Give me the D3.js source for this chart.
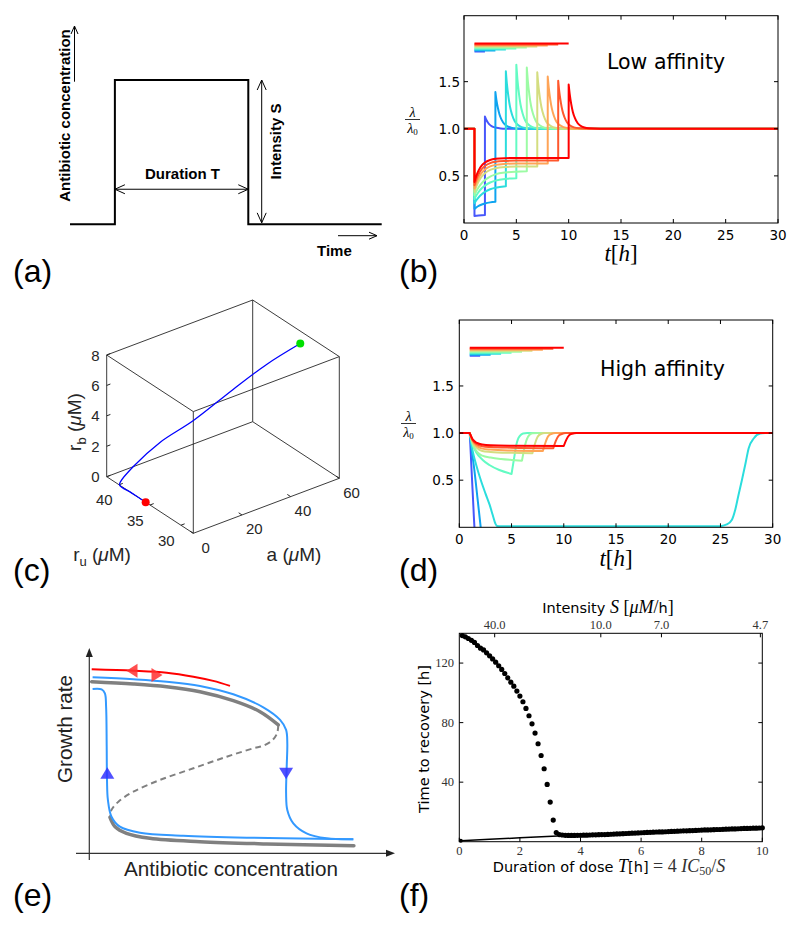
<!DOCTYPE html>
<html><head><meta charset="utf-8">
<script src="https://cdn.jsdelivr.net/npm/d3@7/dist/d3.min.js"></script>
<style>html,body{margin:0;padding:0;background:#fff}svg{display:block}</style>
</head><body>
<script>
// ================= DATA =================
// (a) dose pulse schematic
const pulseTimes  = [0, 1.44, 1.44, 5.72, 5.72, 10];
const pulseLevels = [0, 0, 1, 1, 0, 0];

// (b),(d) growth rate for dose durations T = 1..9 h (dose starts at t = 1 h)
const durations = [1,2,3,4,5,6,7,8,9];
const curveColors = ["#4757fb","#0ea4f0","#2bdddd","#63fbc3","#9cfba4","#d4dd80","#ffa457","#ff572c","#ff0000"];
const lambdaTicks = [0.5, 1.0, 1.5];
const timeTicks = [0,5,10,15,20,25,30];
const doseBarLevels = [1.820,1.831,1.841,1.852,1.862,1.873,1.883,1.894,1.905];

// (b) low affinity
const lowRiseTimes = [1,1.2,1.4,1.7,2,2.5,3,4,5,6,7,8,9,10];
const lowRise = [
  [.075,.077,.079,.082,.085],
  [.15,.167,.181,.196,.207,.219,.226],
  [.21,.244,.273,.306,.33,.358,.374,.391],
  [.255,.296,.329,.368,.397,.43,.45,.469,.476],
  [.295,.341,.379,.423,.456,.493,.516,.537,.545,.548],
  [.33,.393,.442,.494,.529,.563,.581,.595,.599,.60,.60],
  [.365,.432,.481,.534,.568,.601,.617,.628,.632,.632,.632,.632],
  [.40,.469,.52,.573,.606,.636,.65,.659,.662,.662,.662,.662,.662],
  [.435,.507,.559,.611,.642,.669,.681,.688,.69,.69,.69,.69,.69,.69]
];
const lowDecayDt = [0,0.1,0.25,0.4,0.6,0.85,1.1,1.5,2,3];
const lowDecay = [
  [1.13,1.101,1.072,1.049,1.031,1.017,1.01,1.004,1.001,1],
  [1.39,1.304,1.215,1.148,1.094,1.051,1.029,1.012,1.004,1],
  [1.61,1.476,1.336,1.232,1.146,1.079,1.046,1.018,1.006,1],
  [1.68,1.53,1.374,1.258,1.163,1.088,1.051,1.02,1.007,1],
  [1.65,1.507,1.358,1.247,1.156,1.085,1.049,1.02,1.007,1],
  [1.60,1.468,1.33,1.228,1.144,1.078,1.045,1.018,1.006,1],
  [1.555,1.433,1.305,1.211,1.133,1.072,1.042,1.017,1.006,1],
  [1.51,1.398,1.281,1.194,1.122,1.066,1.038,1.015,1.005,1],
  [1.47,1.367,1.259,1.179,1.113,1.061,1.035,1.014,1.005,1]
];

// (d) high affinity
const highDecline = [
  [[1,1],[1.1,.78],[1.2,.55],[1.3,.33],[1.45,0],[1.5,-.08]],
  [[1,1],[1.2,.81],[1.44,.61],[1.76,.29],[2.05,0],[2.1,-.05]],
  [[1,1],[1.3,.8],[1.6,.67],[2,.52],[2.5,.36],[2.9,.24],[3.2,.13],[3.45,.04],[3.6,.015],[4,.012],[25,.012]],
  [[1,1],[1.2,.9],[1.6,.8],[2.24,.714],[2.88,.661],[3.83,.608],[5,.566]],
  [[1,1],[1.3,.88],[1.7,.8],[2.2,.76],[3,.74],[4,.725],[5,.715],[6,.707]],
  [[1,1],[1.3,.9],[1.7,.84],[2.2,.81],[3,.80],[5,.79],[7,.786]],
  [[1,1],[1.3,.91],[1.7,.86],[2.2,.835],[3,.825],[5,.815],[8,.81]],
  [[1,1],[1.3,.92],[1.7,.88],[2.2,.86],[3,.852],[5,.845],[9,.84]],
  [[1,1],[1.3,.93],[1.7,.895],[2.2,.878],[3,.87],[5,.866],[10,.863]]
];
const highRecover = [
  null,
  null,
  [[25,.012],[25.6,.03],[26.1,.08],[26.4,.18],[26.7,.33],[27.05,.5],[27.4,.68],[27.7,.84],[28.2,.945],[28.8,.995],[29.3,1],[30,1]],
  [[5,.566],[5.27,.75],[5.45,.87],[5.6,.93],[5.8,.97],[6.1,.995],[6.5,1],[30,1]],
  [[6,.707],[6.25,.85],[6.45,.93],[6.7,.98],[7,.997],[7.5,1],[30,1]],
  [[7,.786],[7.25,.89],[7.5,.96],[7.8,.99],[8.2,1],[30,1]],
  [[8,.81],[8.25,.9],[8.5,.965],[8.8,.99],[9.2,1],[30,1]],
  [[9,.84],[9.25,.92],[9.5,.97],[9.8,.99],[10.2,1],[30,1]],
  [[10,.863],[10.25,.93],[10.5,.975],[10.8,.993],[11.2,1],[30,1]]
];

// (c) trajectory in (a, r_u, r_b) space
const trajA  = [0, 0, 0, 0.3, 4.5, 13, 24.2, 36.7, 46.8, 55.4];
const trajRu = [35.7, 38, 39.9, 39.9, 39.5, 38.5, 37.5, 36, 34.5, 32.5];
const trajRb = [0, 0, 0, 0.2, 1.05, 2.4, 3.43, 5.12, 6.57, 7.94];
const rbTicks = [0,2,4,6,8];
const ruTicks = [30,35,40];
const aTicks  = [0,20,40,60];

// (e) bistability schematic (arbitrary units 0..100)
const grayUpper  = [[0.8,85.8],[14.7,84.7],[25.8,83.3],[36.9,80.8],[48,76.3],[56.9,70.8],[63,64.2]];
const grayDashed = [[63,64.2],[62.6,60],[61,56.5],[58,53.8],[54.7,52.5],[45.8,48.3],[34.7,42.5],[23.6,36.7],[14.7,30.8],[9.7,25.8],[7.4,21.7],[6.9,18]];
const grayLower  = [[6.9,18],[8.6,13.3],[12.4,10],[20.2,7.5],[36.9,5.8],[59.1,4.7],[88.2,3.8]];
const blueUpper  = [[1.1,88],[14.7,87],[25.8,85.8],[36.9,83.7],[48,79.5],[58,73],[63.6,66.7],[65.6,61.7],[66,55],[65.8,43.3],[65.6,30],[66,21.7],[68,15],[72.4,10],[79.1,7.5],[88,7]];
const blueLower  = [[1.1,82.2],[4.1,82],[5.2,80],[5.6,73.3],[5.8,53.3],[5.9,36.7],[6.2,26.7],[7.4,18.3],[10.2,13.3],[16.9,10.3],[31.3,8.8],[53.6,7.8],[81.3,7.2],[88,7]];
const redLine    = [[0.8,92],[14.7,91.3],[25.8,90.3],[34.7,88.3],[41.3,86.2],[46.9,83.7]];
const blueArrows = [{x:6.0,y:40,dir:"up"},{x:65.6,y:40,dir:"down"}];
const redArrows  = [{x:12.4,y:91.3,dir:"left"},{x:24.4,y:89.2,dir:"right"}];

// (f) time to recovery vs dose duration
const recUpperT = d3.range(1,33).map(i=>i/10);   // 0.1 .. 3.2
const recUpper  = [138.5,137.6,136.5,135.3,133.9,131.8,130.0,128.8,126.9,124.9,122.8,120.6,118.2,115.7,113.0,110.1,107.2,104.5,101.2,97.8,94.0,89.5,84.6,79.2,73.0,65.8,57.9,49.0,38.5,26.6,14.5,6.1];
const recLowerT = d3.range(33,101).map(i=>i/10); // 3.3 .. 10.0
const recLower  = [4.8,4.5,4.3,4.2,4.2,4.2,4.3,4.3,4.4,4.4,4.5,4.6,4.6,4.7,4.8,4.8,4.9,5.0,5.1,5.2,5.3,5.4,5.5,5.6,5.7,5.8,5.9,6.0,6.1,6.2,6.3,6.4,6.5,6.6,6.6,6.7,6.8,6.9,7.0,7.1,7.2,7.3,7.3,7.4,7.5,7.6,7.7,7.8,7.9,7.9,8.0,8.1,8.2,8.2,8.3,8.4,8.5,8.6,8.6,8.7,8.8,8.9,8.9,9.0,9.1,9.1,9.2,9.3];
const recLine   = [[0.05,0.6],[1,1.6],[2,2.6],[3.25,3.9]];
const recXTicks = [0,2,4,6,8,10];
const recYTicks = [40,80,120];
const intensityTicks = [40.0, 10.0, 7.0, 4.7];
const intensityConst = 46.7; // T = 4 IC50 / S

const panelLabels = ["(a)","(b)","(c)","(d)","(e)","(f)"];

// ================= DRAW =================
const svg = d3.select("body").append("svg").attr("width",800).attr("height",932);
svg.append("rect").attr("width",800).attr("height",932).attr("fill","#fff");
const SANS = "'Liberation Sans', Arial, sans-serif";
const DJ = "'DejaVu Sans', sans-serif";
const SERIF = "'Liberation Serif', 'DejaVu Serif', serif";

// panel letters
const labelPos = [[13,282],[399,282],[13,581],[399,581],[13,906],[399,906]];
panelLabels.forEach((l,i)=>svg.append("text").attr("x",labelPos[i][0]).attr("y",labelPos[i][1])
  .attr("font-family",SANS).attr("font-size",32).text(l));

function chevron(g, x, y, ang, len, half, w){
  const bx = x - Math.cos(ang)*len, by = y - Math.sin(ang)*len;
  const px = -Math.sin(ang)*half, py = Math.cos(ang)*half;
  g.append("path").attr("d",`M${bx+px},${by+py}L${x},${y}L${bx-px},${by-py}`)
    .attr("fill","none").attr("stroke","#000").attr("stroke-width",w||1);
}

// ---------- (a) ----------
{
  const g = svg.append("g");
  const xA = d3.scaleLinear([0,10],[70,381.7]);
  const yA = d3.scaleLinear([0,1],[224.3,80]);
  g.append("path").attr("d", d3.line().x((d,i)=>xA(pulseTimes[i])).y(d=>yA(d))(pulseLevels))
    .attr("fill","none").attr("stroke","#000").attr("stroke-width",2);
  const yd = yA(0.243), xs = xA(pulseTimes[1]), xe = xA(pulseTimes[3]);
  g.append("line").attr("x1",xs).attr("x2",xe).attr("y1",yd).attr("y2",yd).attr("stroke","#000");
  chevron(g, xs, yd, Math.PI, 10, 4.5);
  chevron(g, xe, yd, 0, 10, 4.5);
  const xi = xA(6.15);
  g.append("line").attr("x1",xi).attr("x2",xi).attr("y1",yA(1)).attr("y2",yA(0.01)).attr("stroke","#000");
  chevron(g, xi, yA(1), -Math.PI/2, 10, 4.5);
  chevron(g, xi, yA(0.01), Math.PI/2, 10, 4.5);
  g.append("line").attr("x1",74.5).attr("x2",74.5).attr("y1",81.7).attr("y2",26).attr("stroke","#000");
  chevron(g, 74.5, 26, -Math.PI/2, 8, 3.5);
  g.append("line").attr("x1",338).attr("x2",377).attr("y1",235.7).attr("y2",235.7).attr("stroke","#000");
  chevron(g, 377, 235.7, 0, 8, 3.5);
  const bold = s=>s.attr("font-family",SANS).attr("font-weight","bold").attr("font-size",15);
  bold(g.append("text").attr("x",182.5).attr("y",178.5).attr("text-anchor","middle").text("Duration T"));
  bold(g.append("text").attr("transform","translate(280.5,141.5) rotate(-90)").attr("text-anchor","middle").text("Intensity S"));
  bold(g.append("text").attr("transform","translate(69.5,115.5) rotate(-90)").attr("text-anchor","middle").text("Antibiotic concentration"));
  bold(g.append("text").attr("x",317).attr("y",255.5).text("Time"));
}

// ---------- (b) & (d) ----------
function lambdaPanel(o){
  const g = svg.append("g");
  const x = d3.scaleLinear([0,30],[o.x0,o.x1]);
  const y = d3.scaleLinear([0,2.2],[o.yb,o.yt]);
  const cid = "clip"+o.id;
  g.append("clipPath").attr("id",cid).append("rect")
    .attr("x",o.x0).attr("y",o.yt).attr("width",o.x1-o.x0).attr("height",o.yb-o.yt);
  const lin = d3.line().x(d=>x(d[0])).y(d=>y(d[1]));
  const mono = d3.line().x(d=>x(d[0])).y(d=>y(d[1])).curve(d3.curveMonotoneX);
  const cg = g.append("g").attr("clip-path",`url(#${cid})`);
  durations.forEach((T,i)=>{
    const d = o.path(T,i,lin,mono);
    cg.append("path").attr("d",d).attr("fill","none").attr("stroke",curveColors[i])
      .attr("stroke-width",2).attr("stroke-linejoin","round");
  });
  durations.forEach((T,i)=>{
    cg.append("line").attr("x1",x(1)).attr("x2",x(1+T)).attr("y1",y(doseBarLevels[i])).attr("y2",y(doseBarLevels[i]))
      .attr("stroke",curveColors[i]).attr("stroke-width",2);
  });
  g.append("rect").attr("x",o.x0).attr("y",o.yt).attr("width",o.x1-o.x0).attr("height",o.yb-o.yt)
    .attr("fill","none").attr("stroke","#000").attr("stroke-width",1);
  timeTicks.forEach(t=>{
    g.append("line").attr("x1",x(t)).attr("x2",x(t)).attr("y1",o.yb).attr("y2",o.yb-4).attr("stroke","#000");
    g.append("line").attr("x1",x(t)).attr("x2",x(t)).attr("y1",o.yt).attr("y2",o.yt+4).attr("stroke","#000");
    g.append("text").attr("x",x(t)).attr("y",o.xtb).attr("text-anchor","middle")
      .attr("font-family",DJ).attr("font-size",13.5).text(t);
  });
  lambdaTicks.forEach(v=>{
    g.append("line").attr("x1",o.x0).attr("x2",o.x0+4).attr("y1",y(v)).attr("y2",y(v)).attr("stroke","#000");
    g.append("line").attr("x1",o.x1).attr("x2",o.x1-4).attr("y1",y(v)).attr("y2",y(v)).attr("stroke","#000");
    g.append("text").attr("x",o.x0-o.ygap).attr("y",y(v)+5).attr("text-anchor","end")
      .attr("font-family",DJ).attr("font-size",13.5).text(d3.format(".1f")(v));
  });
  const tl = g.append("text").attr("x",(o.x0+o.x1)/2).attr("y",o.tlb).attr("text-anchor","middle")
    .attr("font-family",SERIF).attr("font-size",23);
  tl.append("tspan").attr("font-style","italic").text("t");
  tl.append("tspan").text("[");
  tl.append("tspan").attr("font-style","italic").text("h");
  tl.append("tspan").text("]");
  // y label fraction λ/λ0
  g.append("text").attr("x",o.fx).attr("y",o.fb-3).attr("text-anchor","middle")
    .attr("font-family",SERIF).attr("font-style","italic").attr("font-size",14).text("λ");
  g.append("line").attr("x1",o.fx-7.5).attr("x2",o.fx+7.5).attr("y1",o.fb).attr("y2",o.fb).attr("stroke","#000").attr("stroke-width",0.8);
  const den = g.append("text").attr("x",o.fx).attr("y",o.fb+13.5).attr("text-anchor","middle")
    .attr("font-family",SERIF).attr("font-size",14);
  den.append("tspan").attr("font-style","italic").text("λ");
  den.append("tspan").attr("font-size",9).attr("dy",2).text("0");
  g.append("text").attr("x",o.titleX).attr("y",o.titleY).attr("font-family",DJ).attr("font-size",20.5).text(o.title);
}

lambdaPanel({id:"b", x0:464, x1:778, yt:15.7, yb:223, xtb:239.5, tlb:261, ygap:4, fx:412.5, fb:119.5,
  title:"Low affinity", titleX:607, titleY:68.5,
  path:(T,i,lin,mono)=>{
    const t0 = 1+T;
    const rise = lowRise[i].map((v,j)=>[lowRiseTimes[j],v]);
    const decay = lowDecay[i].map((v,j)=>[t0+lowDecayDt[j],v]).concat([[30,1]]);
    return lin([[0,1],[1,1],rise[0]]) + mono(rise).replace(/^M/,"L")
      + lin([rise[rise.length-1],decay[0]]).replace(/^M/,"L") + mono(decay).replace(/^M/,"L");
  }});

lambdaPanel({id:"d", x0:459.3, x1:772.7, yt:320, yb:527.3, xtb:544, tlb:566, ygap:5.5, fx:408.5, fb:423.5,
  title:"High affinity", titleX:600, titleY:376,
  path:(T,i,lin,mono)=>{
    let d = lin([[0,1],[1,1]]) + mono(highDecline[i]).replace(/^M/,"L");
    if (highRecover[i]) d += mono(highRecover[i]).replace(/^M/,"L");
    return d;
  }});

// ---------- (c) ----------
{
  const g = svg.append("g");
  const Ap = [106.7,476.7], Dp = [193.3,533.3], Cp = [339.3,478.3], At = [106.7,355];
  const sa = d3.scaleLinear([0,60],[0,1]);
  const su = d3.scaleLinear([42,28],[0,1]);
  const sb = d3.scaleLinear([0,8],[0,1]);
  const proj = (a,ru,rb)=>{
    const ua=sa(a), uu=su(ru), ub=sb(rb);
    return [Ap[0] + uu*(Dp[0]-Ap[0]) + ua*(Cp[0]-Dp[0]) + ub*(At[0]-Ap[0]),
            Ap[1] + uu*(Dp[1]-Ap[1]) + ua*(Cp[1]-Dp[1]) + ub*(At[1]-Ap[1])];
  };
  const corners = [];
  [0,60].forEach(a=>[42,28].forEach(ru=>[0,8].forEach(rb=>corners.push({a,ru,rb}))));
  const edges = [];
  corners.forEach((p,i)=>corners.forEach((q,j)=>{
    if (j<=i) return;
    const diff = (p.a!==q.a)+(p.ru!==q.ru)+(p.rb!==q.rb);
    if (diff===1) edges.push([p,q]);
  }));
  edges.forEach(([p,q])=>{
    const P=proj(p.a,p.ru,p.rb), Q=proj(q.a,q.ru,q.rb);
    g.append("line").attr("x1",P[0]).attr("y1",P[1]).attr("x2",Q[0]).attr("y2",Q[1])
      .attr("stroke","#262626").attr("stroke-width",0.9);
  });
  const tickTxt = s=>s.attr("font-family",SANS).attr("font-size",15).attr("fill","#262626");
  rbTicks.forEach(v=>{
    const P = proj(0,42,v);
    g.append("line").attr("x1",P[0]).attr("y1",P[1]).attr("x2",P[0]+3.7).attr("y2",P[1]-1.4).attr("stroke","#262626");
    tickTxt(g.append("text").attr("x",P[0]-7).attr("y",P[1]+5.5).attr("text-anchor","end").text(v));
  });
  ruTicks.forEach(v=>{
    const P = proj(0,v,0);
    g.append("line").attr("x1",P[0]).attr("y1",P[1]).attr("x2",P[0]+3.7).attr("y2",P[1]-1.4).attr("stroke","#262626");
    tickTxt(g.append("text").attr("x",P[0]-14.7).attr("y",P[1]+20.5).attr("text-anchor","middle").text(v));
  });
  aTicks.forEach(v=>{
    const P = proj(v,28,0);
    g.append("line").attr("x1",P[0]).attr("y1",P[1]).attr("x2",P[0]-3.3).attr("y2",P[1]-2.2).attr("stroke","#262626");
    tickTxt(g.append("text").attr("x",P[0]+12.3).attr("y",P[1]+19.5).attr("text-anchor","middle").text(v));
  });
  const lab = (t)=>t.attr("font-family",SANS).attr("font-size",19).attr("fill","#262626");
  const t1 = lab(g.append("text").attr("transform","translate(81,422) rotate(-90)").attr("text-anchor","middle"));
  t1.append("tspan").text("r");
  t1.append("tspan").attr("font-size",13).attr("dy",5).text("b");
  t1.append("tspan").attr("dy",-5).text(" (");
  t1.append("tspan").attr("font-style","italic").text("μ");
  t1.append("tspan").text("M)");
  const t2 = lab(g.append("text").attr("x",102).attr("y",561).attr("text-anchor","middle"));
  t2.append("tspan").text("r");
  t2.append("tspan").attr("font-size",13).attr("dy",5).text("u");
  t2.append("tspan").attr("dy",-5).text(" (");
  t2.append("tspan").attr("font-style","italic").text("μ");
  t2.append("tspan").text("M)");
  const t3 = lab(g.append("text").attr("x",294).attr("y",561).attr("text-anchor","middle"));
  t3.append("tspan").text("a (");
  t3.append("tspan").attr("font-style","italic").text("μ");
  t3.append("tspan").text("M)");
  const pts = trajA.map((a,i)=>proj(a,trajRu[i],trajRb[i]));
  g.append("path").attr("d",d3.line().curve(d3.curveCatmullRom.alpha(0.5))(pts))
    .attr("fill","none").attr("stroke","#0000ff").attr("stroke-width",1.3);
  const s = pts[0], e = pts[pts.length-1];
  g.append("circle").attr("cx",s[0]).attr("cy",s[1]).attr("r",4).attr("fill","#ff0000");
  g.append("circle").attr("cx",e[0]).attr("cy",e[1]).attr("r",4).attr("fill","#00e000");
}

// ---------- (e) ----------
{
  const g = svg.append("g");
  const xE = d3.scaleLinear([0,100],[89.3,389.3]);
  const yE = d3.scaleLinear([0,100],[853.3,653.3]);
  const ln = d3.line().x(d=>xE(d[0])).y(d=>yE(d[1])).curve(d3.curveCatmullRom.alpha(0.5));
  g.append("line").attr("x1",89.3).attr("x2",89.3).attr("y1",860).attr("y2",655).attr("stroke","#333").attr("stroke-width",1.2);
  g.append("path").attr("d","M89.3,648L85.8,657L92.8,657Z").attr("fill","#222");
  g.append("line").attr("x1",76).attr("x2",388).attr("y1",853.3).attr("y2",853.3).attr("stroke","#333").attr("stroke-width",1.2);
  g.append("path").attr("d","M395,853.3L386,849.8L386,856.8Z").attr("fill","#222");
  g.append("path").attr("d",ln(grayUpper)).attr("fill","none").attr("stroke","#808080").attr("stroke-width",3.5).attr("stroke-linecap","round");
  g.append("path").attr("d",ln(grayLower)).attr("fill","none").attr("stroke","#808080").attr("stroke-width",3.5).attr("stroke-linecap","round");
  g.append("path").attr("d",ln(grayDashed)).attr("fill","none").attr("stroke","#808080").attr("stroke-width",2).attr("stroke-dasharray","6,4");
  g.append("path").attr("d",ln(blueUpper)).attr("fill","none").attr("stroke","#3399ff").attr("stroke-width",2);
  g.append("path").attr("d",ln(blueLower)).attr("fill","none").attr("stroke","#3399ff").attr("stroke-width",2);
  g.append("path").attr("d",ln(redLine)).attr("fill","none").attr("stroke","#ff0000").attr("stroke-width",2);
  blueArrows.forEach(a=>{
    const cx=xE(a.x), cy=yE(a.y), s = a.dir==="up"?-1:1;
    g.append("path").attr("d",`M${cx},${cy+s*6}L${cx-7},${cy-s*5.5}L${cx+7},${cy-s*5.5}Z`)
      .attr("fill","#3333ff").attr("fill-opacity",0.85);
  });
  redArrows.forEach(a=>{
    const tx=xE(a.x), ty=yE(a.y), s = a.dir==="left"?1:-1;
    g.append("path").attr("d",`M${tx},${ty}L${tx+s*11},${ty-7}L${tx+s*11},${ty+7}Z`)
      .attr("fill","#ff3030").attr("fill-opacity",0.85);
  });
  g.append("text").attr("transform","translate(71.5,729) rotate(-90)").attr("text-anchor","middle")
    .attr("font-family",SANS).attr("font-size",20.7).attr("fill","#222").text("Growth rate");
  g.append("text").attr("x",231).attr("y",876).attr("text-anchor","middle")
    .attr("font-family",SANS).attr("font-size",20.7).attr("fill","#222").text("Antibiotic concentration");
}

// ---------- (f) ----------
{
  const g = svg.append("g");
  const x = d3.scaleLinear([0,10],[459.3,762.3]);
  const y = d3.scaleLinear([0,140],[841.7,633.3]);
  g.append("path").attr("d",d3.line().x(d=>x(d[0])).y(d=>y(d[1]))(recLine))
    .attr("fill","none").attr("stroke","#000").attr("stroke-width",1.5);
  recUpper.forEach((v,i)=>g.append("circle").attr("cx",x(recUpperT[i])).attr("cy",y(v)).attr("r",2.6).attr("fill","#000"));
  recLower.forEach((v,i)=>g.append("circle").attr("cx",x(recLowerT[i])).attr("cy",y(v)).attr("r",2.6).attr("fill","#000"));
  g.append("circle").attr("cx",x(recLine[0][0])).attr("cy",y(recLine[0][1])).attr("r",2).attr("fill","#000");
  g.append("rect").attr("x",459.3).attr("y",633.3).attr("width",303).attr("height",208.4)
    .attr("fill","none").attr("stroke","#000").attr("stroke-width",1);
  const tk = s=>s.attr("font-family",SERIF).attr("font-size",12.5).attr("fill","#333");
  recXTicks.forEach(t=>{
    g.append("line").attr("x1",x(t)).attr("x2",x(t)).attr("y1",841.7).attr("y2",837.7).attr("stroke","#000");
    tk(g.append("text").attr("x",x(t)).attr("y",855).attr("text-anchor","middle").text(t));
  });
  recYTicks.forEach(v=>{
    g.append("line").attr("x1",459.3).attr("x2",463.3).attr("y1",y(v)).attr("y2",y(v)).attr("stroke","#000");
    g.append("line").attr("x1",762.3).attr("x2",758.3).attr("y1",y(v)).attr("y2",y(v)).attr("stroke","#000");
    tk(g.append("text").attr("x",454).attr("y",y(v)+4).attr("text-anchor","end").text(v));
  });
  intensityTicks.forEach(s=>{
    const xt = x(intensityConst/s);
    g.append("line").attr("x1",xt).attr("x2",xt).attr("y1",633.3).attr("y2",637.3).attr("stroke","#000");
    tk(g.append("text").attr("x",xt).attr("y",629).attr("text-anchor","middle").text(d3.format(".1f")(s)));
  });
  const tt = g.append("text").attr("x",608).attr("y",613).attr("text-anchor","middle").attr("font-family",DJ).attr("font-size",14.5);
  tt.append("tspan").text("Intensity ");
  tt.append("tspan").attr("font-family",SERIF).attr("font-style","italic").attr("font-size",18).text("S");
  tt.append("tspan").attr("font-family",SERIF).attr("font-size",18).text(" [");
  tt.append("tspan").attr("font-family",SERIF).attr("font-style","italic").attr("font-size",18).text("μM");
  tt.append("tspan").attr("font-family",SERIF).attr("font-size",18).text("/");
  tt.append("tspan").text("h");
  tt.append("tspan").attr("font-family",SERIF).attr("font-size",18).text("]");
  const xl = g.append("text").attr("x",609).attr("y",872).attr("text-anchor","middle").attr("font-family",DJ).attr("font-size",14.5);
  xl.append("tspan").text("Duration of dose ");
  xl.append("tspan").attr("font-family",SERIF).attr("font-style","italic").attr("font-size",18).text("T");
  xl.append("tspan").text("[h]");
  xl.append("tspan").attr("font-family",SERIF).attr("font-size",18).attr("fill","#333").text(" = 4 ");
  xl.append("tspan").attr("font-family",SERIF).attr("font-style","italic").attr("font-size",18).attr("fill","#333").text("IC");
  xl.append("tspan").attr("font-family",SERIF).attr("font-size",12).attr("dy",3).attr("fill","#333").text("50");
  xl.append("tspan").attr("font-family",SERIF).attr("font-size",18).attr("dy",-3).attr("fill","#333").text("/");
  xl.append("tspan").attr("font-family",SERIF).attr("font-style","italic").attr("font-size",18).attr("fill","#333").text("S");
  g.append("text").attr("transform","translate(429,739) rotate(-90)").attr("text-anchor","middle")
    .attr("font-family",DJ).attr("font-size",14.5).text("Time to recovery [h]");
}
</script>
</body></html>
